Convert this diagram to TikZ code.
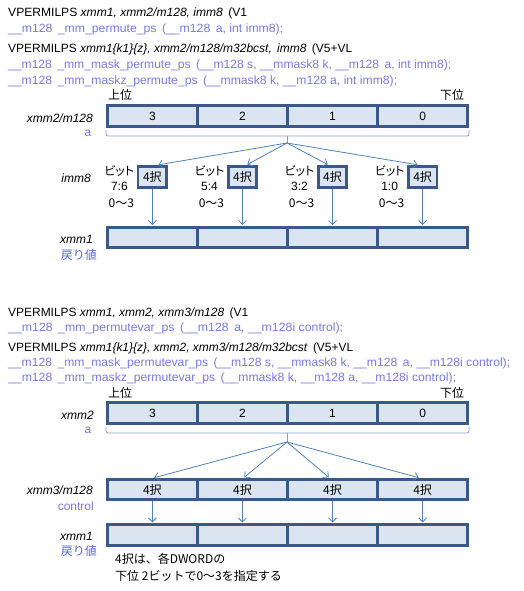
\documentclass[tikz,border=0pt]{standalone}
\usepackage{fontspec}
\usepackage{graphicx}
\setmainfont{Liberation Sans}
\newfontfamily\jp{Noto Sans CJK JP}
\newfontfamily\jpp{Noto Sans CJK JP}[RawFeature=+palt]
\usetikzlibrary{arrows.meta}
\definecolor{codeblue}{RGB}{120,120,235}
\definecolor{retblue}{RGB}{85,105,225}
\definecolor{regborder}{RGB}{59,89,135}
\definecolor{regfill}{RGB}{219,229,241}
\definecolor{arrowblue}{RGB}{79,129,189}
\definecolor{braceblue}{RGB}{130,160,205}
\newcommand{\dsp}{\hspace{0.45em}}
\newcommand{\fitw}[2]{\resizebox{#1pt}{\height}{#2}}
\tikzset{
 txt/.style={inner sep=0pt, font=\fontsize{12}{14}\selectfont},
 codeline/.style={txt, anchor=west, text=codeblue},
 instr/.style={txt, anchor=west, text=black},
 regcell/.style={draw=regborder, line width=2.6pt, fill=regfill, minimum width=90.1pt, minimum height=20.5pt, inner sep=0pt, font=\fontsize{12}{14}\selectfont},
 selbox/.style={draw=regborder, line width=2.6pt, fill=regfill, minimum width=28.4pt, minimum height=21.4pt, inner sep=0pt, font=\jp\fontsize{12}{14}\selectfont},
 conn/.style={draw=arrowblue, line width=0.8pt, -{Straight Barb[length=4pt,width=8pt]}, shorten >=1pt},
 braceline/.style={draw=braceblue, line width=0.8pt, rounded corners=2pt},
 reglbl/.style={inner sep=0pt, anchor=east, font=\itshape\fontsize{12}{14}\selectfont},
 sublbl/.style={inner sep=0pt, text=codeblue, font=\fontsize{12}{14}\selectfont},
 jptxt/.style={inner sep=0pt, font=\jp\fontsize{12}{14}\selectfont},
 bittxt/.style={inner sep=0pt, font=\jpp\fontsize{12}{14}\selectfont},
}
\begin{document}
\begin{tikzpicture}[x=1pt,y=-1pt]
\useasboundingbox (0,0) rectangle (524,591);
% ---- text block 1
\node[instr] (l1) at (8,13) {\fitw{239}{VPERMILPS \textit{xmm1, xmm2/m128, imm8}\dsp(V1}};
\node[codeline] (l2) at (8,29) {\fitw{275}{\_\_m128\dsp\_mm\_permute\_ps\dsp(\_\_m128\dsp a, int imm8);}};
\node[instr] (l3) at (8,49) {\fitw{344}{VPERMILPS \textit{xmm1\{k1\}\{z\}, xmm2/m128/m32bcst,\dsp imm8}\dsp(V5+VL}};
\node[codeline] (l4) at (8,65) {\fitw{443}{\_\_m128\dsp\_mm\_mask\_permute\_ps\dsp(\_\_m128 s, \_\_mmask8 k, \_\_m128\dsp a, int imm8);}};
\node[codeline] (l5) at (8,81) {\fitw{389}{\_\_m128\dsp\_mm\_maskz\_permute\_ps\dsp(\_\_mmask8 k, \_\_m128 a, int imm8);}};
% ---- diagram 1
\node[jptxt] (hi1) at (120,95) {上位};
\node[jptxt] (lo1) at (452,95) {下位};
\node[reglbl] (la1) at (93,118) {xmm2/m128};
\node[sublbl] (sa1) at (88,133) {a};
\node[reglbl] (li1) at (91,178) {imm8};
\node[reglbl] (lr1) at (93,239) {xmm1};
\node[jptxt, anchor=east, text=retblue] (rv1) at (97,255) {戻り値};
\foreach \i/\t in {1/3,2/2,3/1,4/0}{
  \node[regcell] (ra\i) at ({152.35+(\i-1)*90.1},116) {\t};
  \node[regcell] (rb\i) at ({152.35+(\i-1)*90.1},237.5) {};
  \node[selbox] (s\i) at ({152.35+(\i-1)*90.1},177) {4択};
}
\foreach \i/\b in {1/7:6,2/5:4,3/3:2,4/1:0}{
  \node[bittxt] (bt\i) at ({152.35+(\i-1)*90.1-33},171) {ビット};
  \node[txt] (bn\i) at ({152.35+(\i-1)*90.1-33},186) {\b};
  \node[jptxt] (br\i) at ({152.35+(\i-1)*90.1-31},203) {0〜3};
}
\draw[braceline] (106,130) -- (106,136) -- (469,136) -- (469,130);
\coordinate (tip1) at (287,143);
\draw[braceline] (287,136) -- (tip1);
\draw[conn] (tip1) -- ([xshift=5pt]s1.north);
\draw[conn] (tip1) -- ([xshift=4pt]s2.north);
\draw[conn] (tip1) -- ([xshift=-4pt]s3.north);
\draw[conn] (tip1) -- ([xshift=-4pt]s4.north);
\foreach \i in {1,...,4}{\draw[conn] (s\i.south) -- (rb\i.north);}
% ---- text block 2
\node[instr] (m1) at (8,313) {\fitw{240}{VPERMILPS \textit{xmm1, xmm2, xmm3/m128}\dsp(V1}};
\node[codeline] (m2) at (8,328) {\fitw{335}{\_\_m128\dsp\_mm\_permutevar\_ps\dsp(\_\_m128\dsp a, \_\_m128i control);}};
\node[instr] (m3) at (8,348) {\fitw{345}{VPERMILPS \textit{xmm1\{k1\}\{z\}, xmm2, xmm3/m128/m32bcst}\dsp(V5+VL}};
\node[codeline] (m4) at (8,363) {\fitw{502}{\_\_m128\dsp\_mm\_mask\_permutevar\_ps\dsp(\_\_m128 s, \_\_mmask8 k, \_\_m128\dsp a, \_\_m128i control);}};
\node[codeline] (m5) at (8,378) {\fitw{448}{\_\_m128\dsp\_mm\_maskz\_permutevar\_ps\dsp(\_\_mmask8 k, \_\_m128 a, \_\_m128i control);}};
% ---- diagram 2
\node[jptxt] (hi2) at (120,393) {上位};
\node[jptxt] (lo2) at (452,393) {下位};
\node[reglbl] (lx2) at (94,415) {xmm2};
\node[sublbl] (sa2) at (88,430) {a};
\node[reglbl] (lx3) at (93,490) {xmm3/m128};
\node[sublbl, anchor=east] (sc2) at (94,506) {control};
\node[reglbl] (lx1) at (93,536) {xmm1};
\node[jptxt, anchor=east, text=retblue] (rv2) at (97,551) {戻り値};
\foreach \i/\t in {1/3,2/2,3/1,4/0}{
  \node[regcell] (qa\i) at ({152.35+(\i-1)*90.1},413) {\t};
  \node[regcell, font=\jp\fontsize{12}{14}\selectfont] (qc\i) at ({152.35+(\i-1)*90.1},489.5) {4択};
  \node[regcell] (qb\i) at ({152.35+(\i-1)*90.1},535) {};
}
\draw[braceline] (106,427) -- (106,433) -- (469,433) -- (469,427);
\coordinate (tip2) at (287,442);
\draw[braceline] (287,433) -- (tip2);
\draw[conn] (tip2) -- ([xshift=1pt]qc1.north);
\draw[conn] (tip2) -- ([xshift=1pt]qc2.north);
\draw[conn] (tip2) -- ([xshift=-3pt]qc3.north);
\draw[conn] (tip2) -- ([xshift=-3pt]qc4.north);
\foreach \i in {1,...,4}{\draw[conn] (qc\i.south) -- (qb\i.north);}
\node[jptxt, anchor=west] (n1) at (115,559) {4択は、各DWORDの};
\node[jptxt, anchor=west] (n2) at (115,576) {下位 2ビットで0〜3を指定する};
\end{tikzpicture}
\end{document}
